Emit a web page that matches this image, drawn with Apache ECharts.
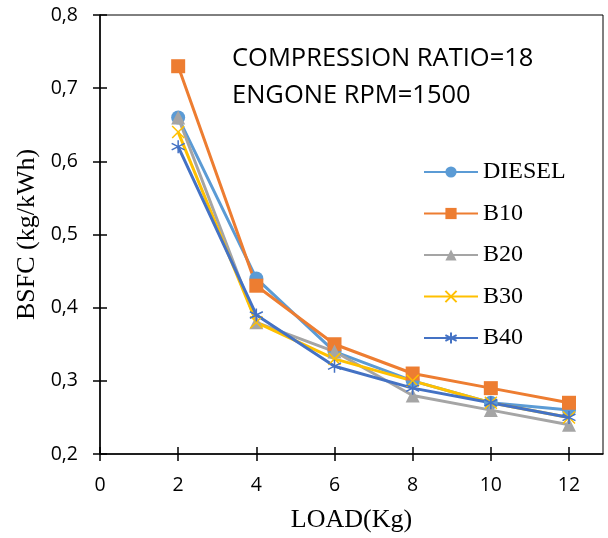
<!DOCTYPE html>
<html>
<head>
    <meta charset="utf-8">
    <title>BSFC</title>
    <script src="https://cdn.jsdelivr.net/npm/echarts@6/dist/echarts.min.js"></script>
</head>
<body style="margin:0">
    <div id="main" style="width: 608px;height:538px;"></div>
    <script type="text/javascript">
        // data
        let loads = [2, 4, 6, 8, 10, 12];
        let diesel = [0.66, 0.44, 0.34, 0.30, 0.27, 0.26];
        let b10 = [0.73, 0.43, 0.35, 0.31, 0.29, 0.27];
        let b20 = [0.66, 0.38, 0.34, 0.28, 0.26, 0.24];
        let b30 = [0.64, 0.38, 0.33, 0.30, 0.27, 0.25];
        let b40 = [0.62, 0.39, 0.32, 0.29, 0.27, 0.25];
        let seriesNames = ['DIESEL', 'B10', 'B20', 'B30', 'B40'];
        let yTicks = [0.2, 0.3, 0.4, 0.5, 0.6, 0.7, 0.8];
        let xTicks = [0, 2, 4, 6, 8, 10, 12];

        var myChart = echarts.init(document.getElementById('main'));

        let crossPath = 'path://M0,0L10,10M10,0L0,10';
        let starPath = 'path://M5,0L5,10M0.7,2.5L9.3,7.5M9.3,2.5L0.7,7.5';

        function pairs(vals) {
          return loads.map((x, i) => [x, vals[i]]);
        }

        let styles = [
          {color: '#5B9BD5', symbol: 'circle', size: 14},
          {color: '#ED7D31', symbol: 'rect', size: 14},
          {color: '#A5A5A5', symbol: 'triangle', size: 14},
          {color: '#FFC000', symbol: crossPath, size: 12},
          {color: '#4472C4', symbol: starPath, size: 13}
        ];
        let values = [diesel, b10, b20, b30, b40];

        let tickLabel = {fontFamily: 'Open Sans', fontSize: 19.5, color: '#000'};
        let tickStyle = {color: '#000', width: 1.5};

        var option = {
          animation: false,
          grid: {left: 100, top: 15, right: 5, bottom: 83, show: true, borderColor: '#000', borderWidth: 1},
          legend: {
            orient: 'vertical',
            left: 418,
            top: 155,
            itemWidth: 54,
            itemHeight: 14,
            itemGap: 17.5,
            textStyle: {fontFamily: 'Liberation Serif', fontSize: 24, color: '#000'},
            data: seriesNames
          },
          graphic: [
            {type: 'text', left: 232, top: 46, style: {text: 'COMPRESSION RATIO=18', font: '25.5px "Open Sans"', fill: '#000'}},
            {type: 'text', left: 232, top: 83, style: {text: 'ENGONE RPM=1500', font: '25.5px "Open Sans"', fill: '#000'}}
          ],
          xAxis: [{
            type: 'value', min: 0, max: 12.87,
            name: 'LOAD(Kg)', nameLocation: 'middle', nameGap: 53,
            nameTextStyle: {fontFamily: 'Liberation Serif', fontSize: 26, color: '#000'},
            axisLine: {lineStyle: {color: '#000', width: 1.5}},
            axisTick: {length: 7, customValues: xTicks, lineStyle: tickStyle},
            axisLabel: Object.assign({margin: 21, customValues: xTicks}, tickLabel),
            splitLine: {show: false}
          }, {
            type: 'value', min: 0, max: 12.87, position: 'bottom',
            axisLine: {show: false},
            axisTick: {inside: true, length: 7, customValues: xTicks, lineStyle: tickStyle},
            axisLabel: {show: false}, splitLine: {show: false}
          }],
          yAxis: [{
            type: 'value', min: 0.2, max: 0.8,
            name: 'BSFC (kg/kWh)', nameLocation: 'middle', nameGap: 60,
            nameTextStyle: {fontFamily: 'Liberation Serif', fontSize: 26, color: '#000'},
            axisLine: {show: true, lineStyle: {color: '#000', width: 1.5}},
            axisTick: {show: true, length: 7, customValues: yTicks, lineStyle: tickStyle},
            axisLabel: Object.assign({margin: 22, customValues: yTicks,
              formatter: v => v.toFixed(1).replace('.', ',')}, tickLabel),
            splitLine: {show: false}
          }, {
            type: 'value', min: 0.2, max: 0.8, position: 'left',
            axisLine: {show: false},
            axisTick: {show: true, inside: true, length: 7, customValues: yTicks, lineStyle: tickStyle},
            axisLabel: {show: false}, splitLine: {show: false}
          }],
          series: seriesNames.map((name, i) => ({
            name: name,
            type: 'line',
            data: pairs(values[i]),
            symbol: styles[i].symbol,
            symbolSize: styles[i].size,
            showAllSymbol: true,
            lineStyle: {color: styles[i].color, width: 3},
            itemStyle: i >= 3
              ? {color: styles[i].color, borderColor: styles[i].color, borderWidth: 1.5}
              : {color: styles[i].color}
          }))
        };
        myChart.setOption(option);
    </script>
</body>
</html>
